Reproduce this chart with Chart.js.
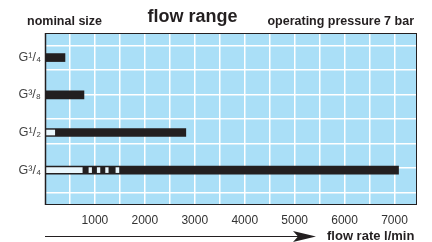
<!DOCTYPE html>
<html lang="en">
<head>
  <meta charset="UTF-8">
  <title>flow range</title>
  <script src="https://cdn.jsdelivr.net/npm/chart.js"></script>
  <style>
    body { margin: 0; background: #fff; }
  </style>
</head>
<body>
  <canvas id="myChart" width="432" height="242"></canvas>
  <script>
    // nominal sizes and where their rows sit (grid units from the top)
    const sizes = ['G¹/₄', 'G³/₈', 'G¹/₂', 'G³/₄'];
    const rowPos = [1.0, 2.52, 4.05, 5.58];
    // flow range per size, l/min
    const flowFrom = [15, 15, 0, 0];
    const flowTo = [400, 780, 2820, 7080];
    // open (white) parts inside the bars
    const gapRow = [2, 3, 3, 3, 3, 3];
    const gapFrom = [25, 20, 880, 1046, 1214, 1420];
    const gapTo = [195, 746, 933, 1100, 1266, 1480];
    // vertical grid lines and the labelled ones
    const xGrid = [0, 500, 1000, 1500, 2000, 2500, 3000, 3500, 4000, 4500, 5000, 5500, 6000, 6500, 7000];
    const xTicks = [1000, 2000, 3000, 4000, 5000, 6000, 7000];

    const ink = '#231f20';
    const sky = '#aadff7';

    const frame = {
      id: 'frame',
      beforeDraw(chart) {
        const { ctx, chartArea: a } = chart;
        ctx.save();
        ctx.fillStyle = sky;
        ctx.fillRect(a.left, a.top, a.right - a.left, a.bottom - a.top);
        ctx.restore();
      },
      afterDraw(chart) {
        const { ctx, chartArea: a } = chart;
        ctx.save();
        ctx.strokeStyle = ink;
        ctx.lineWidth = 1;
        ctx.strokeRect(a.left + 0.5, a.top + 0.5, a.right - a.left - 1, a.bottom - a.top - 1);
        ctx.lineWidth = 1.5;
        ctx.beginPath();
        ctx.moveTo(a.left + 0.5, a.top);
        ctx.lineTo(a.left + 0.5, a.bottom);
        ctx.stroke();

        ctx.fillStyle = ink;
        ctx.font = 'bold 12.5px "Liberation Sans", Arial, sans-serif';
        ctx.textAlign = 'left';
        ctx.fillText('nominal size', 27, 24.5);
        ctx.textAlign = 'right';
        ctx.fillText('operating pressure 7 bar', 414, 24.5);
        ctx.textAlign = 'center';
        ctx.font = 'bold 18px "Liberation Sans", Arial, sans-serif';
        ctx.fillText('flow range', 192.5, 22);
        ctx.textAlign = 'left';
        ctx.font = 'bold 13px "Liberation Sans", Arial, sans-serif';
        ctx.fillText('flow rate l/min', 327, 240);

        // arrow under the axis
        ctx.lineWidth = 1.2;
        ctx.beginPath();
        ctx.moveTo(a.left, 236.5);
        ctx.lineTo(300, 236.5);
        ctx.stroke();
        ctx.beginPath();
        ctx.moveTo(316, 236.5);
        ctx.lineTo(293, 231);
        ctx.lineTo(298, 236.5);
        ctx.lineTo(293, 242);
        ctx.closePath();
        ctx.fill();
        ctx.restore();
      }
    };

    const ctx = document.getElementById('myChart').getContext('2d');
    new Chart(ctx, {
      type: 'bar',
      data: {
        datasets: [
          {
            label: 'open',
            data: gapRow.map((r, i) => ({ x: [gapFrom[i], gapTo[i]], y: rowPos[r] })),
            backgroundColor: '#eaf7fd',
            barThickness: 5,
            order: 1
          },
          {
            label: 'flow range',
            data: rowPos.map((p, i) => ({ x: [flowFrom[i], flowTo[i]], y: p })),
            backgroundColor: ink,
            barThickness: 8,
            order: 2
          }
        ]
      },
      options: {
        indexAxis: 'y',
        responsive: false,
        animation: false,
        grouped: false,
        layout: { padding: { top: 33, right: 15, left: 0, bottom: 0 } },
        plugins: {
          legend: { display: false },
          tooltip: { enabled: false }
        },
        scales: {
          x: {
            type: 'linear',
            min: 0,
            max: 7450,
            afterFit: s => { s.height = 37; },
            afterBuildTicks: s => { s.ticks = xGrid.map(v => ({ value: v })); },
            border: { display: false },
            grid: { color: '#ffffff', lineWidth: 1.5, drawTicks: false },
            ticks: {
              autoSkip: false,
              maxRotation: 0,
              minRotation: 0,
              padding: 8,
              color: '#333333',
              font: { family: '"Liberation Sans", Arial, sans-serif', size: 12 },
              callback: v => xTicks.includes(v) ? String(v) : ''
            }
          },
          yg: {
            type: 'linear',
            position: 'left',
            min: 0,
            max: 7,
            reverse: true,
            offset: false,
            afterFit: s => { s.width = 0; },
            border: { display: false },
            grid: { color: '#ffffff', lineWidth: 1.5, drawTicks: false },
            ticks: { display: false, stepSize: 1 }
          },
          y: {
            type: 'linear',
            position: 'left',
            min: 0,
            max: 7,
            reverse: true,
            offset: false,
            afterFit: s => { s.width = 45; },
            afterBuildTicks: s => { s.ticks = rowPos.map(v => ({ value: v })); },
            border: { display: false },
            grid: { display: false, drawTicks: false },
            ticks: {
              padding: 4,
              color: '#444444',
              font: { family: '"Liberation Sans", Arial, sans-serif', size: 12.5 },
              callback: (v, i) => sizes[i]
            }
          }
        }
      },
      plugins: [frame]
    });
  </script>
</body>
</html>
